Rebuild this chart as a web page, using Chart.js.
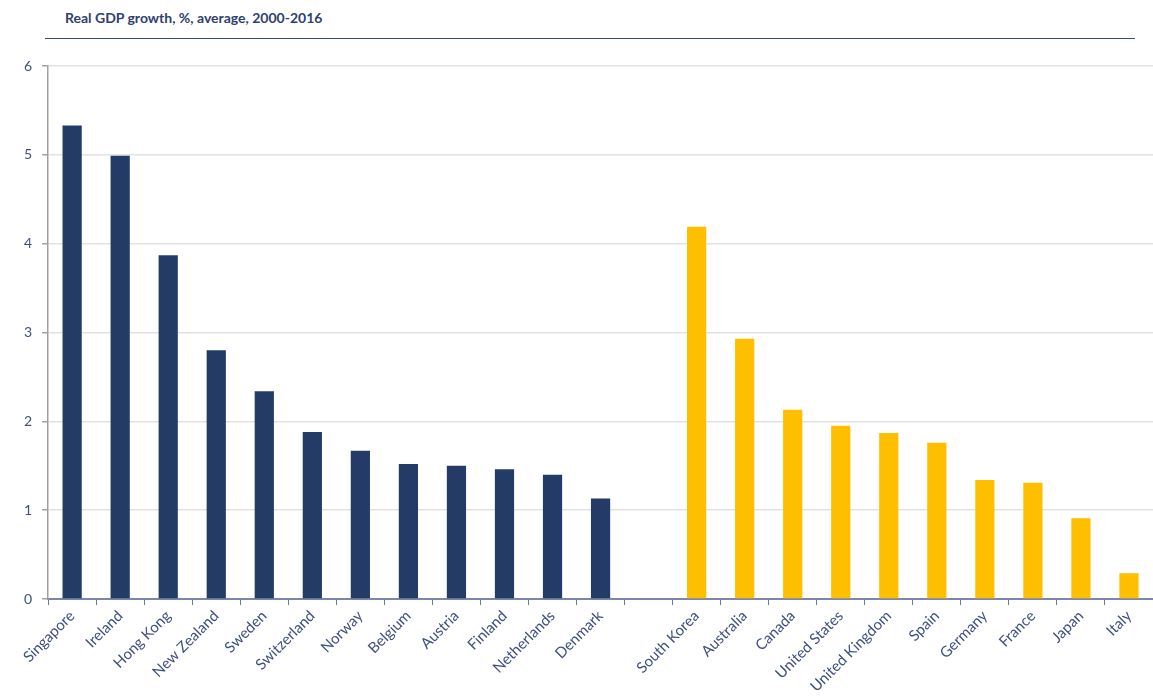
<!DOCTYPE html>
<html>
<head>
<meta charset="utf-8">
<script src="https://cdn.jsdelivr.net/npm/chart.js@4/dist/chart.umd.min.js"></script>
<style>
  body { margin: 0; background: #fff; }
  #wrap { position: relative; width: 1153px; height: 698px; }
  #title {
    position: absolute; left: 45px; top: 9px; width: 1090px;
    padding-left: 20px; box-sizing: border-box; height: 30px;
    font: bold 14px Lato, "Open Sans", sans-serif; color: #2e4170;
    border-bottom: 1.5px solid #3a4d7a;
  }
  canvas { position: absolute; left: 0; top: 0; }
</style>
</head>
<body>
<div id="wrap">
  <div id="title">Real GDP growth, %, average, 2000-2016</div>
  <canvas id="gdp" width="1153" height="698"></canvas>
</div>
<script>
// smaller economies, then a blank slot, then the larger ones
const smallCountries = ['Singapore', 'Ireland', 'Hong Kong', 'New Zealand', 'Sweden', 'Switzerland',
                        'Norway', 'Belgium', 'Austria', 'Finland', 'Netherlands', 'Denmark'];
const smallGrowth = [5.33, 4.99, 3.87, 2.80, 2.34, 1.88, 1.67, 1.52, 1.50, 1.46, 1.40, 1.13];

const largeCountries = ['South Korea', 'Australia', 'Canada', 'United States', 'United Kingdom',
                        'Spain', 'Germany', 'France', 'Japan', 'Italy'];
const largeGrowth = [4.19, 2.93, 2.13, 1.95, 1.87, 1.76, 1.34, 1.31, 0.91, 0.29];

const yTicks = [0, 1, 2, 3, 4, 5, 6];

const navy = '#243a67';
const yellow = '#fdbf00';

const labels = [...smallCountries, '', ...largeCountries];
const values = [...smallGrowth, null, ...largeGrowth];
const colors = [...smallGrowth.map(() => navy), 'rgba(0,0,0,0)', ...largeGrowth.map(() => yellow)];

const labelColor = '#3f5080';

new Chart(document.getElementById('gdp'), {
    type: 'bar',
    data: {
        labels: labels,
        datasets: [{
            data: values,
            backgroundColor: colors,
            categoryPercentage: 1,
            barPercentage: 0.4
        }]
    },
    options: {
        responsive: false,
        animation: false,
        layout: { padding: { top: 66, left: 14, right: 0, bottom: 0 } },
        plugins: { legend: { display: false }, tooltip: { enabled: false } },
        scales: {
            x: {
                afterFit: scale => { scale.height = 99; },
                grid: { offset: true, drawOnChartArea: false, tickLength: 6, tickColor: '#6a7899' },
                border: { color: '#7a88a8', width: 2 },
                ticks: {
                    color: labelColor, font: { family: 'Lato, "Open Sans", sans-serif', size: 15 },
                    minRotation: 45, maxRotation: 45, autoSkip: false, padding: 2
                }
            },
            y: {
                min: 0,
                max: 6,
                afterBuildTicks: scale => { scale.ticks = yTicks.map(v => ({ value: v })); },
                grid: { color: '#e2e2e2', lineWidth: 1.5, tickLength: 6, tickColor: '#a0a0a0' },
                border: { color: '#a0a0a0', width: 1.5 },
                ticks: { color: labelColor, font: { family: 'Lato, "Open Sans", sans-serif', size: 14 }, padding: 10 }
            }
        }
    }
});
</script>
</body>
</html>
